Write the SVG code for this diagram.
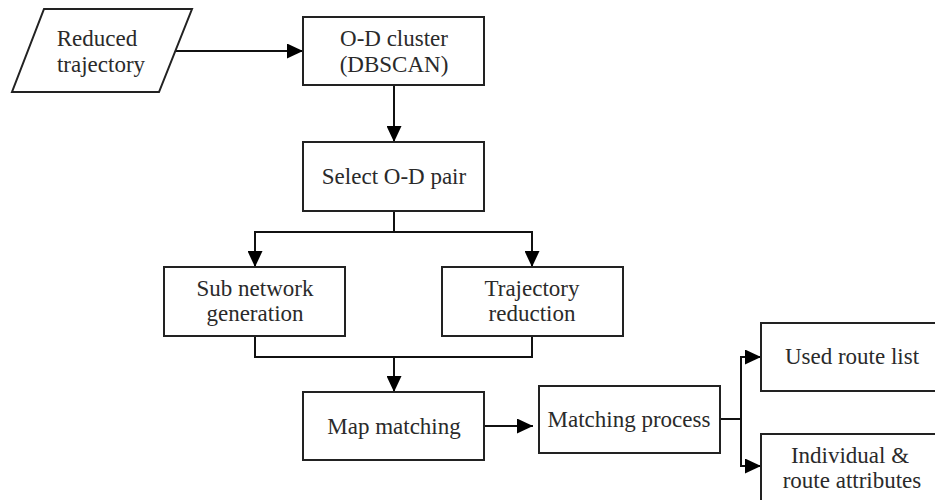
<svg xmlns="http://www.w3.org/2000/svg" width="935" height="500" viewBox="0 0 935 500">
<style>
.box{fill:#fff;stroke:#222;stroke-width:2}
.lbl{font-family:"Liberation Serif","Times New Roman",serif;font-size:23px;fill:#2a2a2a;text-anchor:middle}
.ln{fill:none;stroke:#111;stroke-width:2}
.ar{fill:none;stroke:#111;stroke-width:2;marker-end:url(#ah)}
</style>
<defs>
<marker id="ah" markerUnits="userSpaceOnUse" markerWidth="16" markerHeight="15" refX="16" refY="7.5" orient="auto">
<path d="M0,0 L16,7.5 L0,15 z" fill="#000"/>
</marker>
</defs>
<rect width="935" height="500" fill="#fff"/>
<g id="connectors">
<line class="ar" x1="175" y1="51" x2="303" y2="51"/>
<line class="ar" x1="394" y1="85" x2="394" y2="142"/>
<polyline class="ln" points="394,211 394,232"/>
<polyline class="ar" points="394,232 255,232 255,267"/>
<polyline class="ar" points="394,232 532,232 532,267"/>
<polyline class="ln" points="255,336 255,357 532,357 532,336"/>
<line class="ar" x1="394" y1="357" x2="394" y2="392"/>
<line class="ar" x1="484" y1="426" x2="533" y2="426"/>
<line class="ln" x1="720" y1="419" x2="741" y2="419"/>
<polyline class="ar" points="741,419 741,357 761,357"/>
<polyline class="ar" points="741,419 741,466 761,466"/>
</g>
<g id="reduced-trajectory">
<polygon class="box" points="44,9 192,9 159,92 12,92"/>
<text class="lbl" x="97" y="46">Reduced</text>
<text class="lbl" x="101" y="72">trajectory</text>
</g>
<g id="od-cluster">
<rect class="box" x="303" y="17" width="181" height="68"/>
<text class="lbl" x="394" y="46">O-D cluster</text>
<text class="lbl" x="394" y="72">(DBSCAN)</text>
</g>
<g id="select-od">
<rect class="box" x="303" y="142" width="181" height="69"/>
<text class="lbl" x="394" y="184">Select O-D pair</text>
</g>
<g id="sub-network">
<rect class="box" x="164" y="267" width="181" height="69"/>
<text class="lbl" x="255" y="296">Sub network</text>
<text class="lbl" x="255" y="321">generation</text>
</g>
<g id="trajectory-reduction">
<rect class="box" x="442" y="267" width="181" height="69"/>
<text class="lbl" x="532" y="296">Trajectory</text>
<text class="lbl" x="532" y="321">reduction</text>
</g>
<g id="map-matching">
<rect class="box" x="303" y="392" width="181" height="68"/>
<text class="lbl" x="394" y="434">Map matching</text>
</g>
<g id="matching-process">
<rect class="box" x="539" y="386" width="181" height="67"/>
<text class="lbl" x="629" y="427">Matching process</text>
</g>
<g id="used-route-list">
<rect class="box" x="761" y="323" width="200" height="68"/>
<text class="lbl" x="852" y="364">Used route list</text>
</g>
<g id="individual-route-attributes">
<rect class="box" x="761" y="434" width="200" height="90"/>
<text class="lbl" x="850" y="463">Individual &amp;</text>
<text class="lbl" x="852" y="488">route attributes</text>
</g>
</svg>
